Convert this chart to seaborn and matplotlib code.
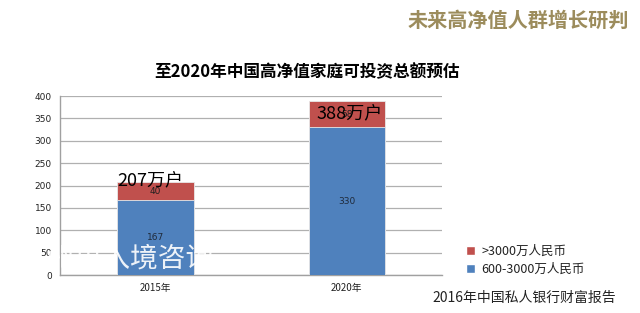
import matplotlib.pyplot as plt
import seaborn as sns
import pandas as pd
from matplotlib.patches import Patch

years = ["2015年", "2020年"]
mid_tier = [167, 330]      # 600-3000万人民币
top_tier = [40, 58]        # >3000万人民币
total_labels = ["207万户", "388万户"]
yticks = [0, 50, 100, 150, 200, 250, 300, 350, 400]

BLUE = "#4F81BD"
RED = "#C0504D"

sns.set_style("white")
plt.rcParams['font.family'] = ['Noto Sans CJK SC', 'DejaVu Sans']

df = pd.DataFrame({"year": years, "mid": mid_tier, "top": top_tier})
df["total"] = df["mid"] + df["top"]

fig = plt.figure(figsize=(6.4, 3.13), dpi=100)
ax = fig.add_axes([0.094, 0.121, 0.597, 0.572])

sns.barplot(data=df, x="year", y="total", color=RED, width=0.4,
            saturation=1, edgecolor="#E8E8E8", linewidth=0.6, ax=ax, zorder=3)
sns.barplot(data=df, x="year", y="mid", color=BLUE, width=0.4,
            saturation=1, edgecolor="#E8E8E8", linewidth=0.6, ax=ax, zorder=3)

ax.set_xlim(-0.5, 1.5)
ax.set_ylim(0, 400)
ax.set_yticks(yticks)
ax.set_yticklabels([str(v) for v in yticks], fontsize=6.5, color="#222222",
                   family="DejaVu Sans")
ax.yaxis.grid(True, color="#B0B0B0", linewidth=0.9, zorder=0)
ax.set_xlabel("")
ax.set_ylabel("")

# category ticks at boundaries, labels at centres
ax.set_xticks([-0.5, 0.5, 1.5], minor=False)
ax.set_xticklabels([])
ax.set_xticks([0, 1], minor=True)
ax.set_xticklabels(years, minor=True, fontsize=7, color="#222222")
ax.tick_params(axis="x", which="minor", length=0, pad=6)
ax.tick_params(axis="x", which="major", length=5, color="#A0A0A0", direction="out")
ax.tick_params(axis="y", length=4, color="#A0A0A0", direction="out", pad=2)

for s in ["top", "right"]:
    ax.spines[s].set_visible(False)
for s in ["left", "bottom"]:
    ax.spines[s].set_color("#A0A0A0")
    ax.spines[s].set_linewidth(1)

# segment labels, centred in each segment
for i in range(len(years)):
    ax.text(i, mid_tier[i] / 2, str(mid_tier[i]), ha="center", va="center",
            fontsize=6.5, color="#1F2A3A", family="DejaVu Sans", zorder=5)
    ax.text(i, mid_tier[i] + top_tier[i] / 2, str(top_tier[i]),
            ha="center", va="center", fontsize=6.5,
            color="#1F1F1F", family="DejaVu Sans", zorder=5)

# totals annotations
ax.text(-0.2, df["total"][0] + 5, total_labels[0], ha="left", va="center",
        fontsize=13, color="black", zorder=6)
ax.text(0.84, df["total"][1] - 26, total_labels[1], ha="left", va="center",
        fontsize=13, color="black", zorder=6)

# watermark
fig.text(0.03, 0.17, "苏州出入境咨询", fontsize=20, color="white", alpha=0.9,
         ha="left", va="center", zorder=10)

# legend
handles = [Patch(facecolor=RED, label=">3000万人民币"),
           Patch(facecolor=BLUE, label="600-3000万人民币")]
fig.legend(handles=handles, loc="center left", bbox_to_anchor=(0.71, 0.168),
           frameon=False, fontsize=9, handlelength=0.75, handleheight=0.75,
           handletextpad=0.5, labelspacing=0.35, labelcolor="#222222")

fig.text(0.48, 0.77, "至2020年中国高净值家庭可投资总额预估", ha="center", va="center",
         fontsize=12, fontweight="bold", color="black")
fig.text(0.983, 0.935, "未来高净值人群增长研判", ha="right", va="center",
         fontsize=14.5, fontweight="bold", color="#9C8C5C")
fig.text(0.675, 0.048, "2016年中国私人银行财富报告", ha="left", va="center",
         fontsize=10, color="#222222")

fig.savefig("out.png", dpi=100)
